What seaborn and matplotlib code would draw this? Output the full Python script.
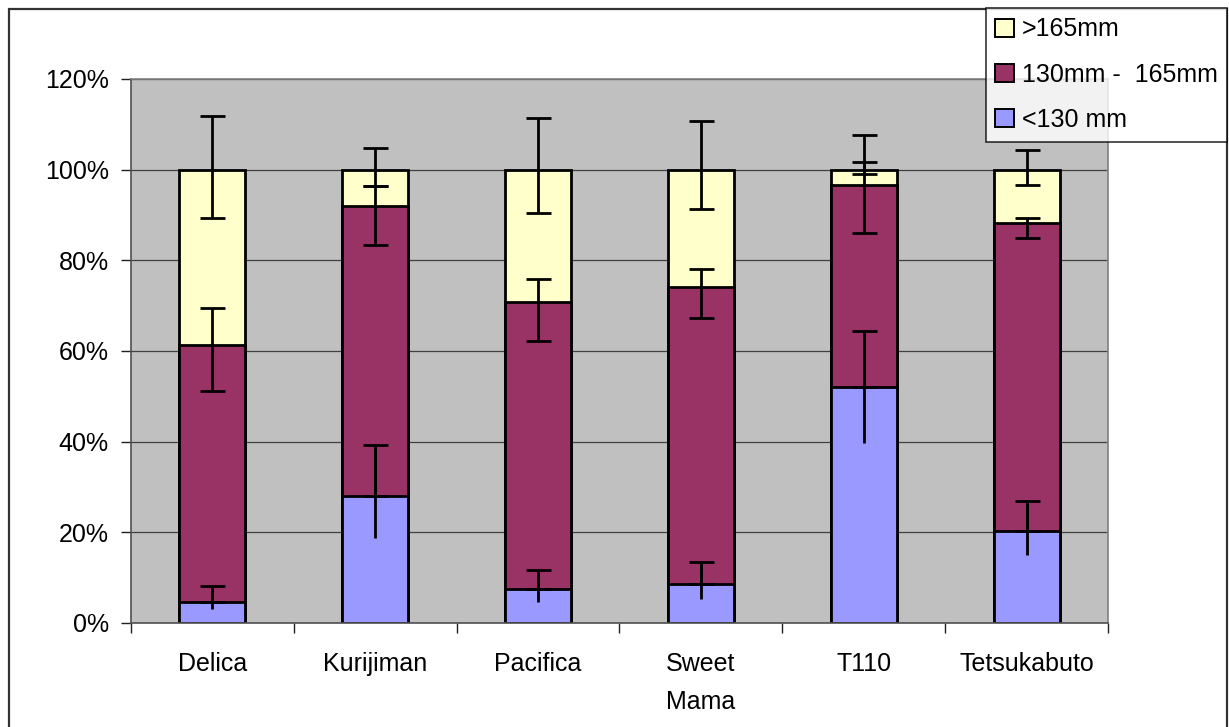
import numpy as np
import matplotlib
matplotlib.use("Agg")
import matplotlib.pyplot as plt
import seaborn as sns
from matplotlib.patches import Rectangle, Patch

# ---- data (percent) ----
categories = ["Delica", "Kurijiman", "Pacifica", "Sweet\nMama", "T110", "Tetsukabuto"]
small = [4.7, 28.0, 7.4, 8.6, 52.1, 20.4]          # <130 mm
medium = [56.6, 63.9, 63.4, 65.6, 44.6, 67.8]      # 130mm - 165mm
large = [38.7, 8.1, 29.2, 25.8, 3.3, 11.8]         # >165mm

small_err_plus = [3.5, 11.2, 4.4, 4.9, 12.4, 6.5]
small_err_minus = [1.6, 9.2, 2.75, 3.3, 12.5, 5.5]
medium_err_plus = [8.1, 4.6, 5.1, 3.8, 4.9, 1.1]
medium_err_minus = [10.2, 8.5, 8.5, 7.0, 10.6, 3.3]
large_err_plus = [11.8, 4.8, 11.4, 10.8, 7.6, 4.3]
large_err_minus = [10.7, 3.5, 9.6, 8.6, 1.05, 3.3]

series_labels = [">165mm", "130mm -  165mm", "<130 mm"]
yticks = [0, 20, 40, 60, 80, 100, 120]

# ---- style ----
sns.set_theme(style="white")
plt.rcParams["font.family"] = ["Liberation Sans", "DejaVu Sans"]
plt.rcParams["text.color"] = "black"
plt.rcParams["xtick.color"] = "black"
plt.rcParams["ytick.color"] = "black"
plt.rcParams["xtick.labelcolor"] = "black"
plt.rcParams["ytick.labelcolor"] = "black"
FS = 18

c_small, c_med, c_large = "#9999FF", "#993366", "#FFFFCC"

fig = plt.figure(figsize=(12.29, 7.27), dpi=100)
ax = fig.add_axes([131 / 1229, 1 - 623 / 727, (1108 - 131) / 1229, (623 - 79) / 727])
ax.set_facecolor("#C0C0C0")

s = np.array(small)
m = np.array(medium)
l = np.array(large)
cum1 = s
cum2 = s + m
cum3 = s + m + l

bar_kw = dict(width=0.405, edgecolor="black", linewidth=2.0, ax=ax, saturation=1)
sns.barplot(x=categories, y=cum3, color=c_large, **bar_kw)
sns.barplot(x=categories, y=cum2, color=c_med, **bar_kw)
sns.barplot(x=categories, y=cum1, color=c_small, **bar_kw)

x = np.arange(len(categories))
ekw = dict(fmt="none", ecolor="black", elinewidth=2.0, capthick=2.0, zorder=5)
ax.errorbar(x, cum3, yerr=[large_err_minus, large_err_plus], capsize=9, **ekw)
ax.errorbar(x, cum2, yerr=[medium_err_minus, medium_err_plus], capsize=9, **ekw)
ax.errorbar(x, cum1, yerr=[small_err_minus, small_err_plus], capsize=0, **ekw)
ax.errorbar(x, cum1, yerr=[np.zeros(len(x)), small_err_plus], capsize=9, **ekw)

# axes
ax.set_xlim(-0.5, len(categories) - 0.5)
ax.set_ylim(0, 120)
ax.set_yticks(yticks)
ax.set_yticklabels([f"{v}%" for v in yticks], fontsize=FS, color="black")
ax.yaxis.grid(True, color="#404040", linewidth=0.9)
ax.xaxis.grid(False)
ax.set_axisbelow(True)

ax.set_xticks(np.arange(-0.5, len(categories), 1.0))
ax.set_xticklabels([])
ax.set_xticks(x, minor=True)
ax.set_xticklabels(categories, minor=True, fontsize=FS, linespacing=1.75, color="black")
ax.tick_params(axis="x", which="major", length=7, width=1, color="#202020", direction="out", bottom=True)
ax.tick_params(axis="x", which="minor", length=0, pad=21)
ax.tick_params(axis="y", length=7, width=1, color="#202020", direction="out", left=True, pad=9)
ax.set_xlabel("")
ax.set_ylabel("")

for side in ["left", "bottom"]:
    ax.spines[side].set_color("#505050")
    ax.spines[side].set_linewidth(1.2)
for side in ["top", "right"]:
    ax.spines[side].set_color("#808080")
    ax.spines[side].set_linewidth(1.2)

# outer chart border
fig.patches.append(Rectangle((9 / 1229, -0.05), (1227 - 9) / 1229, 1.05 - 9 / 727,
                             transform=fig.transFigure, fill=False,
                             edgecolor="#333333", linewidth=1.6, zorder=0))

# legend
handles = [Patch(facecolor=c_large, edgecolor="black", linewidth=1.4),
           Patch(facecolor=c_med, edgecolor="black", linewidth=1.4),
           Patch(facecolor=c_small, edgecolor="black", linewidth=1.4)]
leg = fig.legend(handles, series_labels, loc="upper right",
                 bbox_to_anchor=(1227 / 1229, 1 - 8 / 727), fontsize=FS,
                 frameon=True, fancybox=False, handlelength=0.75, handleheight=0.75,
                 handletextpad=0.3, labelspacing=0.85, borderpad=0.38, borderaxespad=0)
leg.get_frame().set_edgecolor("black")
leg.get_frame().set_linewidth(1.2)
leg.get_frame().set_facecolor("white")
for t in leg.get_texts():
    t.set_color("black")

fig.savefig("out.png", dpi=100, facecolor="white")
